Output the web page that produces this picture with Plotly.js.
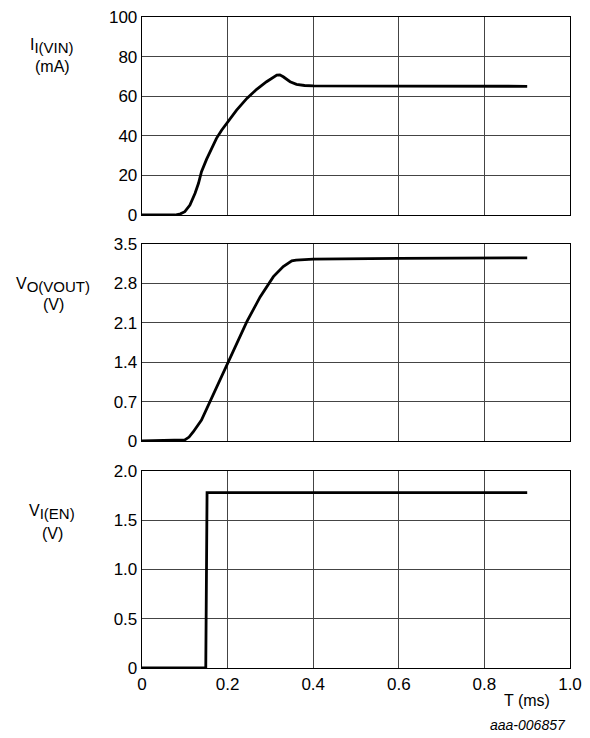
<!DOCTYPE html>
<html>
<head>
<meta charset="utf-8">
<script src="https://cdn.plot.ly/plotly-3.0.1.min.js"></script>
<style>html,body{margin:0;padding:0;background:#fff}#chart{width:590px;height:738px}</style>
</head>
<body>
<div id="chart"></div>
<script>
// Time axis (ms)
const xTickVals = [0, 0.2, 0.4, 0.6, 0.8, 1.0];
const xTickText = ["0", "0.2", "0.4", "0.6", "0.8", "1.0"];

// Panel 1: input current I_I(VIN) (mA)
const tIin = [0, 0.077, 0.090, 0.100, 0.112, 0.124, 0.132, 0.139, 0.151, 0.162, 0.174, 0.186, 0.198, 0.221, 0.245, 0.268, 0.291, 0.306, 0.315, 0.322, 0.330, 0.346, 0.361, 0.380, 0.400, 0.600, 0.900];
const iin  = [0, 0, 0.6, 1.7, 5, 11, 16, 21.9, 28.2, 33.5, 38.7, 42.8, 46.3, 53, 58.9, 63.5, 67.3, 69.4, 70.7, 70.8, 69.8, 67.3, 66, 65.4, 65.2, 65.1, 65.0];
const iinTickVals = [0, 20, 40, 60, 80, 100];
const iinTickText = ["0", "20", "40", "60", "80", "100"];

// Panel 2: output voltage V_O(VOUT) (V)
const tVout = [0, 0.100, 0.110, 0.120, 0.139, 0.159, 0.182, 0.202, 0.233, 0.245, 0.276, 0.307, 0.330, 0.342, 0.350, 0.360, 0.369, 0.400, 0.600, 0.900];
const vout  = [0, 0.02, 0.07, 0.165, 0.37, 0.70, 1.08, 1.41, 1.94, 2.12, 2.56, 2.92, 3.10, 3.17, 3.20, 3.215, 3.22, 3.23, 3.245, 3.255];
const voutTickVals = [0, 0.7, 1.4, 2.1, 2.8, 3.5];
const voutTickText = ["0", "0.7", "1.4", "2.1", "2.8", "3.5"];

// Panel 3: enable voltage V_I(EN) (V)
const tEn = [0, 0.149, 0.152, 0.900];
const en  = [0, 0, 1.78, 1.78];
const enTickVals = [0, 0.5, 1.0, 1.5, 2.0];
const enTickText = ["0", "0.5", "1.0", "1.5", "2.0"];

const W = 590, H = 738, L = 142, R = 20, T = 17, B = 70;
const PW = W - L - R, PH = H - T - B;
const px = v => (v - L) / PW;
const py = v => (H - B - v) / PH;

const FAM = "Liberation Sans, Arial, sans-serif";
const font = {family: FAM, size: 17, color: "#000"};
const lineStyle = {color: "#000", width: 2.8, shape: "linear"};

const traces = [
  {x: tIin, y: iin, xaxis: "x", yaxis: "y", mode: "lines", line: lineStyle, hoverinfo: "skip"},
  {x: tVout, y: vout, xaxis: "x2", yaxis: "y2", mode: "lines", line: lineStyle, hoverinfo: "skip"},
  {x: tEn, y: en, xaxis: "x3", yaxis: "y3", mode: "lines", line: lineStyle, hoverinfo: "skip"}
];

function xax(anchor, showLabels) {
  return {
    anchor: anchor, range: [0, 1.0], tickmode: "array", tickvals: xTickVals, ticktext: xTickText,
    showticklabels: showLabels, ticks: "", showgrid: true, gridcolor: "#444", gridwidth: 1,
    showline: true, linecolor: "#000", linewidth: 1.3, mirror: true, zeroline: false,
    tickfont: font, fixedrange: true
  };
}
function yax(anchor, domain, range, vals, text) {
  return {
    anchor: anchor, domain: domain, range: range, tickmode: "array", tickvals: vals, ticktext: text,
    ticks: "", showgrid: true, gridcolor: "#444", gridwidth: 1,
    showline: true, linecolor: "#000", linewidth: 1.3, mirror: true, zeroline: false,
    tickfont: font, fixedrange: true
  };
}

const labFont = {family: FAM, size: 16, color: "#000"};
const ann = (x, y, text, extra) => Object.assign({
  xref: "paper", yref: "paper", x: px(x), y: py(y), text: text, showarrow: false,
  xanchor: "center", yanchor: "middle", font: labFont
}, extra || {});
const sub = s => "<sub><span style='font-size:15px'>" + s + "</span></sub>";

const layout = {
  width: W, height: H, margin: {l: L, r: R, t: T, b: B},
  paper_bgcolor: "#fff", plot_bgcolor: "#fff", showlegend: false, font: font,
  xaxis: xax("y", false),
  xaxis2: Object.assign(xax("y2", false), {matches: "x"}),
  xaxis3: Object.assign(xax("y3", true), {matches: "x"}),
  yaxis: yax("x", [py(215), 1], [0, 100], iinTickVals, iinTickText),
  yaxis2: yax("x2", [py(441), py(244)], [0, 3.5], voutTickVals, voutTickText),
  yaxis3: yax("x3", [0, py(471)], [0, 2.0], enTickVals, enTickText),
  annotations: [
    ann(52, 46, "I" + sub("I(VIN)")),
    ann(52, 67, "(mA)"),
    ann(53, 285, "V" + sub("O(VOUT)")),
    ann(53, 304, "(V)"),
    ann(52, 512, "V" + sub("I(EN)")),
    ann(52, 533, "(V)"),
    ann(527, 700, "T (ms)"),
    ann(568, 725, "<i>aaa-006857</i>", {xanchor: "right", font: {family: FAM, size: 14, color: "#000"}})
  ]
};

Plotly.newPlot("chart", traces, layout, {displayModeBar: false, staticPlot: true});
</script>
</body>
</html>
